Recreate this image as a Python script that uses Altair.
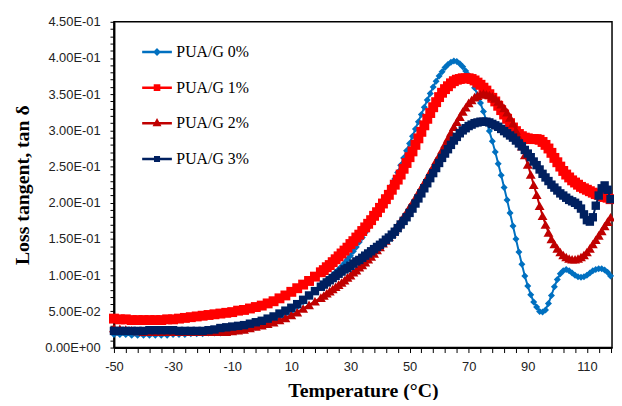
import altair as alt
import pandas as pd

# ---------------- data ----------------
SERIES = ["PUA/G 0%", "PUA/G 1%", "PUA/G 2%", "PUA/G 3%"]
COLORS = ["#0070C0", "#FF0000", "#C00000", "#002060"]

T_LOW = list(range(-50, 20, 2))   # -50 ... 18, every 2 degrees
T_HIGH = list(range(20, 119))     # 20 ... 118, every degree
TEMPS = T_LOW + T_HIGH

G0_LOW = [0.018, 0.018, 0.018, 0.017, 0.017, 0.017, 0.017, 0.017, 0.017, 0.017,
          0.018, 0.018, 0.018, 0.019, 0.019, 0.019, 0.020, 0.020, 0.020, 0.021,
          0.022, 0.023, 0.024, 0.026, 0.028, 0.031, 0.034, 0.038, 0.042, 0.046,
          0.050, 0.056, 0.063, 0.071, 0.079]
G0_HIGH = [0.086, 0.089, 0.093, 0.096, 0.100, 0.104, 0.108, 0.112, 0.117, 0.122,
           0.127, 0.133, 0.139, 0.146, 0.152, 0.159, 0.166, 0.172, 0.179, 0.186,
           0.193, 0.200, 0.208, 0.216, 0.224, 0.233, 0.242, 0.252, 0.262, 0.272,
           0.282, 0.292, 0.302, 0.312, 0.322, 0.332, 0.342, 0.351, 0.360, 0.368,
           0.375, 0.381, 0.387, 0.391, 0.394, 0.396, 0.395, 0.392, 0.388, 0.382,
           0.376, 0.368, 0.359, 0.349, 0.338, 0.326, 0.313, 0.299, 0.285, 0.270,
           0.254, 0.238, 0.221, 0.204, 0.186, 0.168, 0.150, 0.132, 0.115, 0.099,
           0.085, 0.073, 0.063, 0.056, 0.050, 0.049, 0.052, 0.061, 0.072, 0.084,
           0.094, 0.102, 0.106, 0.108, 0.106, 0.103, 0.100, 0.098, 0.097, 0.098,
           0.100, 0.103, 0.106, 0.108, 0.109, 0.109, 0.107, 0.104, 0.099]

G1_LOW = [0.040, 0.039, 0.039, 0.038, 0.038, 0.038, 0.038, 0.038, 0.038, 0.039,
          0.039, 0.040, 0.041, 0.042, 0.043, 0.044, 0.045, 0.046, 0.047, 0.048,
          0.049, 0.051, 0.052, 0.054, 0.056, 0.058, 0.061, 0.064, 0.068, 0.072,
          0.077, 0.082, 0.087, 0.092, 0.098]
G1_HIGH = [0.104, 0.107, 0.111, 0.114, 0.118, 0.122, 0.126, 0.130, 0.134, 0.138,
           0.143, 0.147, 0.152, 0.156, 0.161, 0.166, 0.171, 0.176, 0.182, 0.187,
           0.193, 0.199, 0.205, 0.211, 0.218, 0.225, 0.232, 0.239, 0.247, 0.255,
           0.263, 0.271, 0.280, 0.289, 0.298, 0.307, 0.316, 0.324, 0.332, 0.339,
           0.346, 0.352, 0.357, 0.361, 0.365, 0.368, 0.370, 0.371, 0.372, 0.372,
           0.372, 0.371, 0.369, 0.366, 0.363, 0.359, 0.355, 0.350, 0.345, 0.340,
           0.334, 0.328, 0.322, 0.316, 0.310, 0.304, 0.299, 0.295, 0.292, 0.290,
           0.289, 0.288, 0.288, 0.288, 0.287, 0.284, 0.280, 0.275, 0.269, 0.262,
           0.256, 0.250, 0.244, 0.239, 0.235, 0.231, 0.228, 0.225, 0.222, 0.220,
           0.218, 0.216, 0.214, 0.212, 0.211, 0.209, 0.208, 0.207, 0.205]

G2_LOW = [0.027, 0.026, 0.025, 0.024, 0.023, 0.022, 0.022, 0.022, 0.022, 0.022,
          0.022, 0.022, 0.022, 0.022, 0.022, 0.022, 0.022, 0.022, 0.022, 0.022,
          0.023, 0.024, 0.025, 0.027, 0.029, 0.031, 0.033, 0.035, 0.038, 0.041,
          0.045, 0.049, 0.054, 0.059, 0.064]
G2_HIGH = [0.069, 0.072, 0.075, 0.078, 0.081, 0.084, 0.087, 0.090, 0.093, 0.097,
           0.100, 0.104, 0.107, 0.111, 0.114, 0.118, 0.122, 0.126, 0.130, 0.135,
           0.139, 0.144, 0.148, 0.153, 0.158, 0.163, 0.169, 0.175, 0.181, 0.187,
           0.194, 0.200, 0.207, 0.214, 0.221, 0.228, 0.235, 0.243, 0.250, 0.258,
           0.265, 0.273, 0.281, 0.289, 0.297, 0.305, 0.312, 0.319, 0.326, 0.332,
           0.338, 0.342, 0.346, 0.348, 0.350, 0.351, 0.350, 0.349, 0.347, 0.344,
           0.340, 0.336, 0.331, 0.325, 0.318, 0.310, 0.300, 0.290, 0.278, 0.266,
           0.253, 0.239, 0.225, 0.211, 0.196, 0.182, 0.170, 0.159, 0.150, 0.143,
           0.137, 0.132, 0.128, 0.125, 0.123, 0.122, 0.122, 0.123, 0.125, 0.128,
           0.132, 0.137, 0.143, 0.149, 0.155, 0.161, 0.168, 0.174, 0.180]

G3_LOW = [0.023, 0.023, 0.023, 0.023, 0.023, 0.023, 0.024, 0.024, 0.024, 0.024,
          0.024, 0.023, 0.023, 0.023, 0.023, 0.023, 0.024, 0.025, 0.027, 0.028,
          0.029, 0.030, 0.031, 0.033, 0.035, 0.037, 0.040, 0.043, 0.047, 0.051,
          0.055, 0.060, 0.066, 0.072, 0.078]
G3_HIGH = [0.084, 0.087, 0.090, 0.093, 0.096, 0.099, 0.102, 0.105, 0.108, 0.110,
           0.113, 0.116, 0.119, 0.121, 0.124, 0.127, 0.130, 0.133, 0.136, 0.139,
           0.142, 0.145, 0.149, 0.152, 0.156, 0.160, 0.165, 0.170, 0.175, 0.180,
           0.186, 0.192, 0.199, 0.206, 0.213, 0.220, 0.227, 0.234, 0.241, 0.248,
           0.255, 0.262, 0.268, 0.274, 0.280, 0.286, 0.291, 0.296, 0.300, 0.303,
           0.306, 0.308, 0.310, 0.311, 0.312, 0.312, 0.312, 0.311, 0.309, 0.307,
           0.305, 0.302, 0.299, 0.296, 0.293, 0.290, 0.286, 0.282, 0.278, 0.273,
           0.268, 0.263, 0.257, 0.252, 0.246, 0.240, 0.235, 0.230, 0.225, 0.221,
           0.217, 0.213, 0.210, 0.207, 0.204, 0.202, 0.200, 0.197, 0.192, 0.184,
           0.176, 0.174, 0.180, 0.196, 0.210, 0.220, 0.224, 0.218, 0.205]

VALUES = [G0_LOW + G0_HIGH, G1_LOW + G1_HIGH, G2_LOW + G2_HIGH, G3_LOW + G3_HIGH]

X_TICKS = list(range(-50, 119, 4))
Y_TICKS = [round(i * 0.01, 2) for i in range(46)]

rows = []
for name, vals in zip(SERIES, VALUES):
    for t, v in zip(TEMPS, vals):
        rows.append({"T": t, "v": v, "series": name})
df = pd.DataFrame(rows)

# ---------------- encodings ----------------
x_enc = alt.X(
    "T:Q",
    scale=alt.Scale(domain=[-50, 118.5], nice=False, zero=False),
    axis=alt.Axis(
        values=X_TICKS,
        labelExpr="(round(datum.value) + 50) % 20 == 0 ? datum.value + '' : ''",
        title="Temperature (°C)",
        grid=False,
        tickSize=5, tickColor="black", tickWidth=1,
        domainColor="black", domainWidth=2,
        labelFont="Liberation Sans", labelFontSize=13, labelColor="#222222",
        labelPadding=8, labelOverlap=False, labelFlush=False,
        titleFont="Liberation Serif", titleFontSize=20, titleFontWeight="bold",
        titleColor="black", titlePadding=7,
    ),
)
y_label = ("round(datum.value*100) % 5 != 0 ? '' : "
           "(round(datum.value*100) == 0 ? '0.00E+00' : "
           "(round(datum.value*100) >= 10 ? format(round(datum.value*100)/10, '.2f') + 'E-01' : "
           "format(round(datum.value*100), '.2f') + 'E-02'))")
y_enc = alt.Y(
    "v:Q",
    scale=alt.Scale(domain=[0, 0.45], nice=False, zero=True),
    axis=alt.Axis(
        values=Y_TICKS,
        labelExpr=y_label,
        title="Loss tangent, tan δ",
        grid=False,
        tickSize=4, tickColor="black", tickWidth=1,
        domainColor="black", domainWidth=2,
        labelFont="Liberation Sans", labelFontSize=13, labelColor="#222222",
        labelPadding=10, labelOverlap=False, labelFlush=False,
        titleFont="Liberation Serif", titleFontSize=20, titleFontWeight="bold",
        titleColor="black", titlePadding=12,
    ),
)

SHAPES = ["diamond", "square", "triangle-up", "square"]
SIZES = [50, 100, 100, 72]

base = alt.Chart(df)
layers = []
for name, color, shape, size in zip(SERIES, COLORS, SHAPES, SIZES):
    sub = base.transform_filter(alt.datum.series == name)
    layers.append(sub.mark_line(color=color, strokeWidth=2).encode(x=x_enc, y=y_enc))
    layers.append(sub.mark_point(filled=True, shape=shape, size=size, color=color,
                                 opacity=1).encode(x=x_enc, y=y_enc))

# legend: line + marker symbols (custom paths, unit = 15 px)
LEG_PATHS = [
    "M-1,0H1M0,-0.15L0.15,0L0,0.15L-0.15,0Z",
    "M-1,0H1M-0.14,-0.14H0.14V0.14H-0.14Z",
    "M-1,0H1M0,-0.18L0.16,0.12H-0.16Z",
    "M-1,0H1M-0.12,-0.12H0.12V0.12H-0.12Z",
]
leg = alt.Legend(
    title=None, orient="none", legendX=27, legendY=14, direction="vertical",
    symbolSize=900, symbolStrokeWidth=2.5, symbolOpacity=1,
    labelFont="Liberation Serif", labelFontSize=16, labelColor="black",
    labelOffset=3, rowPadding=11, padding=0,
)
legend_layer = base.transform_filter("false").mark_point(filled=True, opacity=1).encode(
    x=x_enc, y=y_enc,
    color=alt.Color("series:N", scale=alt.Scale(domain=SERIES, range=COLORS), legend=leg),
    stroke=alt.Stroke("series:N", scale=alt.Scale(domain=SERIES, range=COLORS), legend=leg),
    shape=alt.Shape("series:N", scale=alt.Scale(domain=SERIES, range=LEG_PATHS), legend=leg),
)
layers.append(legend_layer)

chart = alt.layer(*layers).properties(
    width=503, height=329,
    autosize=alt.AutoSizeParams(type="none"),
    padding={"left": 107, "top": 12, "right": 2, "bottom": 51},
    background="white",
).configure_view(stroke="black", strokeWidth=1.5)

chart.save("out.html", embed_options={"renderer": "svg", "actions": False})
